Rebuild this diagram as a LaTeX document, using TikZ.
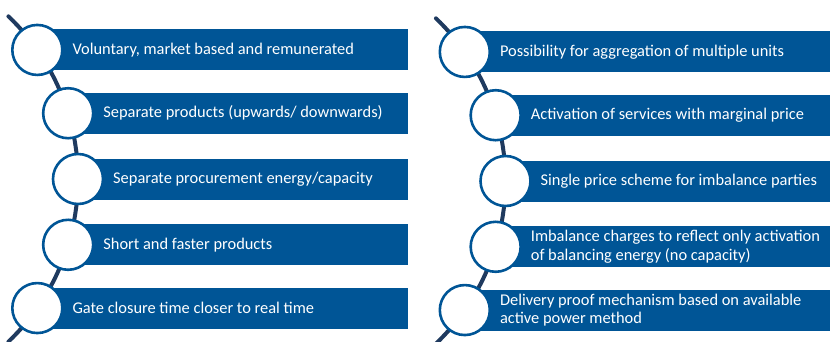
\documentclass[tikz,border=0pt]{standalone}
\usepackage{fontspec}
\setmainfont{Carlito}
\usetikzlibrary{calc}
\definecolor{barblue}{HTML}{005596}
\definecolor{navy}{HTML}{1F3A5F}
\begin{document}
\begin{tikzpicture}[x=1pt,y=-1pt,
  bar/.style={fill=barblue,draw=none},
  ring/.style={circle,draw=barblue,line width=2.6pt,fill=white,minimum size=50pt,inner sep=0pt},
  itemlabel/.style={anchor=west,text=white,font=\fontsize{16.4}{18.5}\selectfont,align=left,inner sep=0pt},
  spine/.style={draw=navy,line width=4pt,line cap=round}]
\useasboundingbox (0,0) rectangle (830,341);
% ---------- left panel ----------
\draw[spine] plot[domain=-46.3:46.3,samples=60] ({-147+225*cos(\x)},{179+225*sin(\x)});
\foreach \i/\a/\t in {1/-35/{Voluntary, market based and remunerated},
                      2/-17/{Separate products (upwards/ downwards)},
                      3/0/{Separate procurement energy/capacity},
                      4/17/{Short and faster products},
                      5/35/{Gate closure time closer to real time}}{
  \coordinate (L\i) at ({-147+225*cos(\a)},{179+225*sin(\a)});
  \fill[bar] ($(L\i)+(0,-20.5)$) rectangle ($(L\i-|0,0)+(408,20.5)$);
  \node[ring] (LC\i) at (L\i) {};
  \node[itemlabel] (LT\i) at ($(L\i)+(35,0)$) {\t};
}
% ---------- right panel ----------
\draw[spine] plot[domain=-46.3:46.3,samples=60] ({280.5+225*cos(\x)},{181+225*sin(\x)});
\foreach \i/\a/\t in {1/-35/{Possibility for aggregation of multiple units},
                      2/-17/{Activation of services with marginal price},
                      3/0/{Single price scheme for imbalance parties},
                      4/17/{Imbalance charges to reflect only activation\\of balancing energy (no capacity)},
                      5/35/{Delivery proof mechanism based on available\\active power method}}{
  \coordinate (R\i) at ({280.5+225*cos(\a)},{181+225*sin(\a)});
  \fill[bar] ($(R\i)+(0,-20.5)$) rectangle ($(R\i-|0,0)+(830,20.5)$);
  \node[ring] (RC\i) at (R\i) {};
  \node[itemlabel] (RT\i) at ($(R\i)+(35,0)$) {\t};
}
\end{tikzpicture}
\end{document}
